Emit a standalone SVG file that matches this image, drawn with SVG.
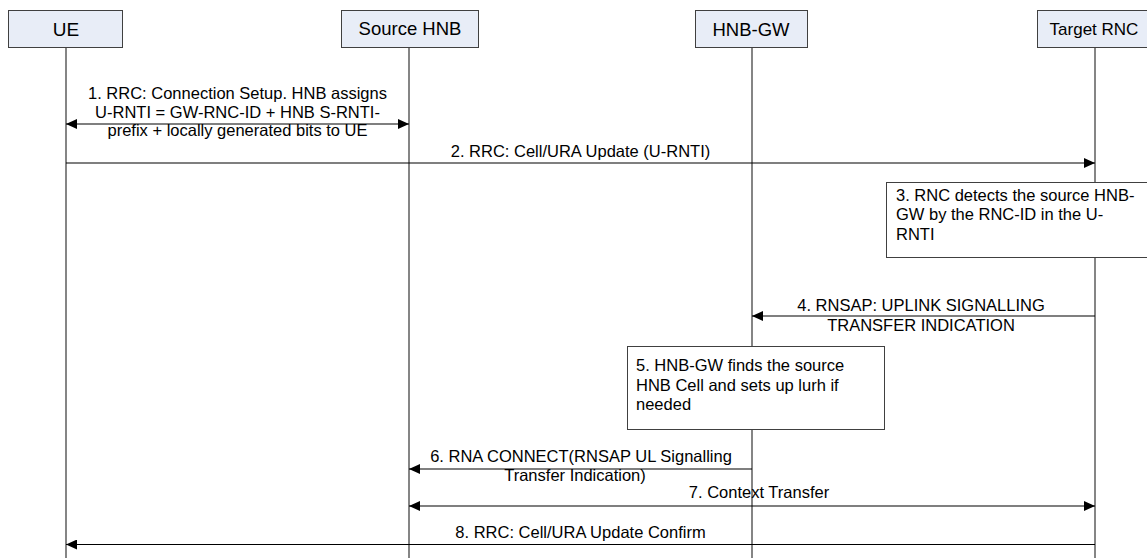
<svg xmlns="http://www.w3.org/2000/svg" width="1147" height="558" viewBox="0 0 1147 558">
<style>
text{font-family:"Liberation Sans",Arial,sans-serif;fill:#000}
.hdr{fill:#e8edf7;stroke:#404040;stroke-width:1}
.life{stroke:#858585;stroke-width:2;fill:none}
.msg{stroke:#000;stroke-width:1.2;fill:none}
.note{fill:#fff;stroke:#404040;stroke-width:1}
.t{font-size:16.5px}
.c{text-anchor:middle}
</style>
<defs>
<marker id="ah" viewBox="0 0 11 10" refX="11" refY="5" markerWidth="11" markerHeight="10" markerUnits="userSpaceOnUse" orient="auto">
<path d="M0,0 L11,5 L0,10 Z" fill="#000"/>
</marker>
<marker id="as" viewBox="0 0 11 10" refX="0" refY="5" markerWidth="11" markerHeight="10" markerUnits="userSpaceOnUse" orient="auto">
<path d="M11,0 L0,5 L11,10 Z" fill="#000"/>
</marker>
</defs>
<g id="lifelines">
<line class="life" x1="66" y1="48" x2="66" y2="558"/>
<line class="life" x1="409" y1="48" x2="409" y2="558"/>
<line class="life" x1="752" y1="48" x2="752" y2="558"/>
<line class="life" x1="1095" y1="48" x2="1095" y2="558"/>
</g>
<g id="node-ue">
<rect class="hdr" x="8.5" y="10.5" width="114" height="37"/>
<text x="66" y="36" font-size="19" class="c">UE</text>
</g>
<g id="node-source-hnb">
<rect class="hdr" x="341.5" y="10.5" width="137" height="37"/>
<text x="410" y="35" font-size="18.5" class="c">Source HNB</text>
</g>
<g id="node-hnb-gw">
<rect class="hdr" x="695.5" y="10.5" width="112" height="37"/>
<text x="751" y="36" font-size="18.5" class="c">HNB-GW</text>
</g>
<g id="node-target-rnc">
<rect class="hdr" x="1037.5" y="10.5" width="116" height="37"/>
<text x="1094" y="35" font-size="17" class="c">Target RNC</text>
</g>
<g id="connectors">
<line class="msg" x1="66" y1="124" x2="409" y2="124" marker-start="url(#as)" marker-end="url(#ah)"/>
<line class="msg" x1="66" y1="163" x2="1095" y2="163" marker-end="url(#ah)"/>
<line class="msg" x1="1095" y1="316" x2="752" y2="316" marker-end="url(#ah)"/>
<line class="msg" x1="752" y1="469" x2="409" y2="469" marker-end="url(#ah)"/>
<line class="msg" x1="409" y1="506" x2="1095" y2="506" marker-start="url(#as)" marker-end="url(#ah)"/>
<line class="msg" x1="1095" y1="544.5" x2="66" y2="544.5" marker-end="url(#ah)"/>
</g>
<g id="labels">
<text class="t c" x="237.5" y="99">1. RRC: Connection Setup. HNB assigns</text>
<text class="t c" x="237.5" y="117.5">U-RNTI = GW-RNC-ID + HNB S-RNTI-</text>
<text class="t c" x="237.5" y="136">prefix + locally generated bits to UE</text>
<text class="t c" x="580.5" y="157">2. RRC: Cell/URA Update (U-RNTI)</text>
<text class="t c" x="921" y="311">4. RNSAP: UPLINK SIGNALLING</text>
<text class="t c" x="921" y="330.5">TRANSFER INDICATION</text>
<text class="t c" x="581" y="462">6. RNA CONNECT(RNSAP UL Signalling</text>
<text class="t c" x="575" y="481">Transfer Indication)</text>
<text class="t c" x="759" y="498">7. Context Transfer</text>
<text class="t c" x="580.5" y="538">8. RRC: Cell/URA Update Confirm</text>
</g>
<g id="node-step3">
<rect class="note" x="886.5" y="182.5" width="270" height="75"/>
<text class="t" x="896" y="200.5">3. RNC detects the source HNB-</text>
<text class="t" x="896" y="220">GW by the RNC-ID in the U-</text>
<text class="t" x="896" y="239.5">RNTI</text>
</g>
<g id="node-step5">
<rect class="note" x="627.5" y="346.5" width="257" height="83"/>
<text class="t" x="636" y="371">5. HNB-GW finds the source</text>
<text class="t" x="636" y="390.5">HNB Cell and sets up lurh if</text>
<text class="t" x="636" y="410">needed</text>
</g>
</svg>
